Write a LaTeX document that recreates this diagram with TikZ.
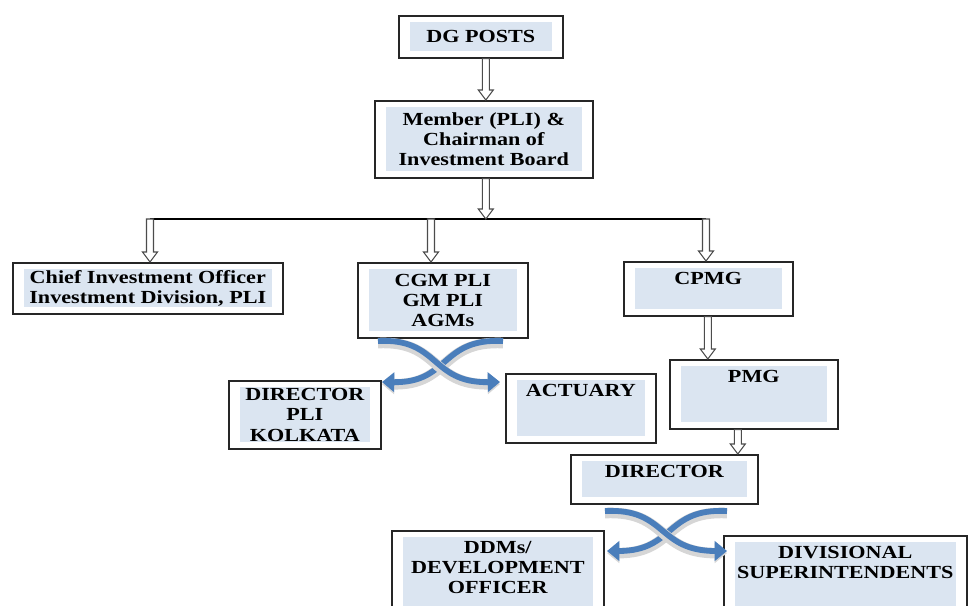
\documentclass[tikz,border=0pt]{standalone}
\usepackage{fontspec}
\setmainfont{Liberation Serif}[FakeStretch=1.2]
\usepackage{xcolor}
\usepackage{tikz}
\usetikzlibrary{arrows.meta,calc}

\definecolor{panel}{RGB}{219,229,241}
\definecolor{bandblue}{RGB}{74,126,187}

\begin{document}
\begin{tikzpicture}
[x=0.2mm, y=-0.2mm,
 box/.style={rectangle,draw=black!85,line width=0.9pt,fill=white,inner sep=0pt,
   align=center,anchor=north west,font=\fontsize{10.5}{11.5}\selectfont\bfseries,
   path picture={\fill[panel] ([shift={(2.2mm,-1.3mm)}]path picture bounding box.north west)
     rectangle ([shift={(-2.2mm,1.3mm)}]path picture bounding box.south east);}},
 boxtext/.style={anchor=north,inner sep=0pt,yshift=-2.1mm,align=center,
   font=\fontsize{10.5}{11.5}\selectfont\bfseries},
 hollow/.style={draw=black!70,line width=0.6pt,fill=white,
   to path={let \p1=(\tikztostart), \p2=(\tikztotarget) in
     (\x1-0.7mm,\y1) -- (\x1-0.7mm,\y2+2mm) -- (\x1-1.5mm,\y2+2mm) -- (\x1,\y2)
     -- (\x1+1.5mm,\y2+2mm) -- (\x1+0.7mm,\y2+2mm) -- (\x1+0.7mm,\y1) -- cycle}},
 band/.style={draw=bandblue,line width=3.3pt,-{Triangle[length=7pt,width=11pt]},
   preaction={draw=black!16,line width=6pt,transform canvas={yshift=-1.2pt}}}]
\useasboundingbox (0,0) rectangle (968,606);

% boxes
\node[box,minimum width=32.8mm,minimum height=8.4mm] (dg) at (398,15) {DG POSTS};
\node[box,minimum width=43.6mm,minimum height=15.4mm] (mem) at (374,100) {Member (PLI) \&\\Chairman of\\Investment Board};
\node[box,minimum width=54mm,minimum height=10.2mm] (cio) at (12,262) {Chief Investment Officer\\Investment Division, PLI};
\node[box,minimum width=34mm,minimum height=15mm] (cgm) at (357,262) {CGM PLI\\GM PLI\\AGMs};
\node[box,minimum width=30.4mm,minimum height=13.6mm] (dpk) at (228,380) {DIRECTOR\\PLI\\KOLKATA};
\node[box,minimum width=30mm,minimum height=13.8mm] (act) at (505,373) {};
\node[boxtext] (acttxt) at (act.north) {ACTUARY};
\node[box,minimum width=33.8mm,minimum height=10.8mm] (cpmg) at (623,261) {};
\node[boxtext] (cpmgtxt) at (cpmg.north) {CPMG};
\node[box,minimum width=33.6mm,minimum height=13.8mm] (pmg) at (669,359) {};
\node[boxtext] (pmgtxt) at (pmg.north) {PMG};
\node[box,minimum width=37.4mm,minimum height=9.8mm] (dir) at (570,454) {};
\node[boxtext] (dirtxt) at (dir.north) {DIRECTOR};
\node[box,minimum width=42.4mm,minimum height=20mm] (ddm) at (391,530) {};
\node[boxtext] (ddmtxt) at (ddm.north) {DDMs/\\DEVELOPMENT\\OFFICER};
\node[box,minimum width=48.6mm,minimum height=19mm] (div) at (723,535) {};
\node[boxtext] (divtxt) at (div.north) {DIVISIONAL\\SUPERINTENDENTS};

% branch line
\coordinate (barl) at (150,219);
\coordinate (barc) at (431,219);
\coordinate (barm) at (485,219);
\coordinate (barr) at (706,219);
\draw[line width=0.7pt] (barl) -- (barr);

% hollow arrows
\draw[hollow] ([xshift=1mm]dg.south) to (mem.north);
\draw[hollow] ([xshift=0.4mm]mem.south) to (barm);
\draw[hollow] (barl) to (cio.north);
\draw[hollow] (barc) to (cgm.north);
\draw[hollow] (barr) to (cpmg.north);
\draw[hollow] ([xshift=-0.1mm]cpmg.south) to (pmg.north);
\draw[hollow] ([xshift=-3.2mm]pmg.south) to (dir.north);

% crossing arrows
\coordinate (cgmL) at (378,341);
\coordinate (cgmR) at (503,341);
\coordinate (dpkin) at (382,382);
\coordinate (actin) at (500,382);
\draw[band] (cgmR) .. controls (440,338) and (450,383) .. (dpkin);
\draw[band] (cgmL) .. controls (440,338) and (430,383) .. (actin);
\coordinate (dirL) at (605,511);
\coordinate (dirR) at (727,511);
\coordinate (ddmin) at (607,551);
\coordinate (divin) at (727,551);
\draw[band] (dirR) .. controls (665,508) and (675,551) .. (ddmin);
\draw[band] (dirL) .. controls (667,508) and (657,551) .. (divin);
\end{tikzpicture}
\end{document}
